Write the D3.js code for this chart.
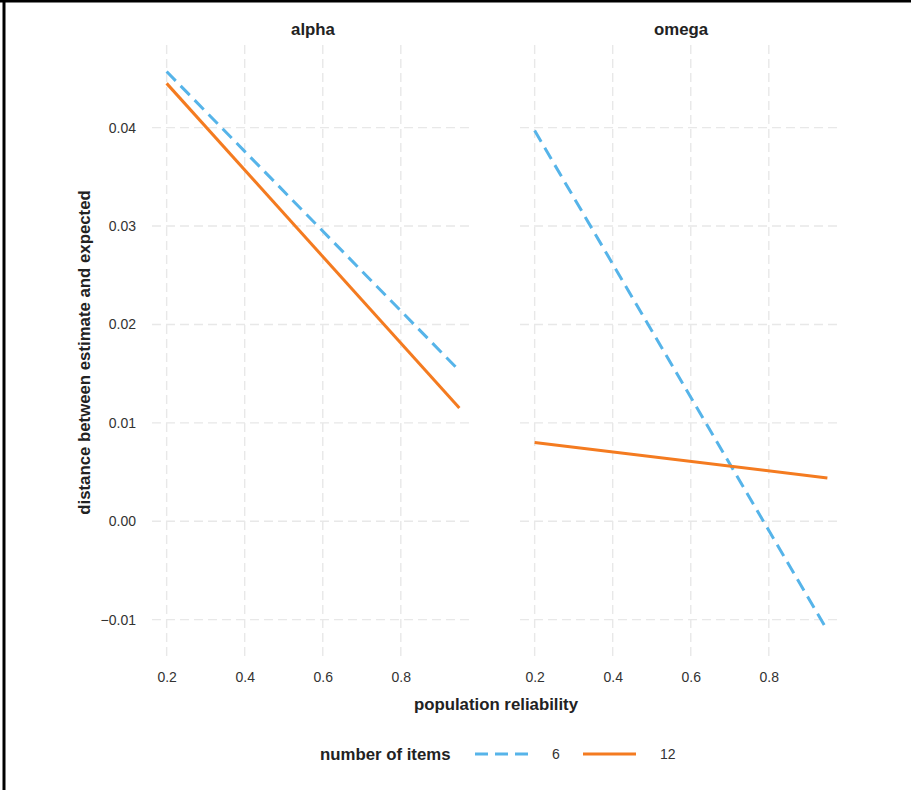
<!DOCTYPE html>
<html lang="en">
<head>
	<meta charset="UTF-8">
	<title>distance by reliability</title>
	<style>
		* {padding:0; margin:0;}
		body {background:#fff;}
		#myGraph {display:block; font-family:"Liberation Sans", Arial, sans-serif;}
		.grid line {stroke:#e8e8e8; stroke-width:1.4px; stroke-dasharray:9,5;}
		.tick text {font-size:14px; fill:#333;}
		.title {font-size:16.8px; font-weight:bold; fill:#222;}
	</style>
</head>
<body>
	<script src="https://d3js.org/d3.v7.min.js"></script>

	<svg id="myGraph" width="911" height="790"></svg>

<script>
// data
var panels = ["alpha", "omega"];
var seriesNames = ["6", "12"];
var xValues = [0.2, 0.95];
var alpha6 = [0.0457, 0.0153];
var alpha12 = [0.0445, 0.0115];
var omega6 = [0.0397, -0.0111];
var omega12 = [0.0080, 0.0044];
var xTicks = [0.2, 0.4, 0.6, 0.8];
var yTicks = [-0.01, 0, 0.01, 0.02, 0.03, 0.04];

var colors = {"6": "#56B4E9", "12": "#F47B20"};
var dashes = {"6": "13,7", "12": null};

var svg = d3.select("#myGraph");

// border top / left
svg.append("line").attr("x1", 0).attr("x2", 911).attr("y1", 1).attr("y2", 1)
	.attr("stroke", "#000").attr("stroke-width", 3);
svg.append("line").attr("x1", 4).attr("x2", 4).attr("y1", 0).attr("y2", 790)
	.attr("stroke", "#000").attr("stroke-width", 3);

var panelLeft = [152, 520];
var panelWidth = 322;
var plotTop = 45, plotBottom = 660;

var y = d3.scaleLinear().domain([-0.0141, 0.0484]).range([plotBottom, plotTop]);

var panelData = {
	alpha: [alpha6, alpha12],
	omega: [omega6, omega12]
};

panels.forEach(function(p, pi){
	var x = d3.scaleLinear().domain([0.1625, 0.9875])
		.range([panelLeft[pi], panelLeft[pi] + panelWidth]);

	var g = svg.append("g");

	// grid
	var grid = g.append("g").attr("class", "grid");
	grid.selectAll(".h").data(yTicks).enter().append("line")
		.attr("x1", panelLeft[pi]).attr("x2", panelLeft[pi] + panelWidth)
		.attr("y1", function(d){ return y(d); })
		.attr("y2", function(d){ return y(d); });
	grid.selectAll(".v").data(xTicks).enter().append("line")
		.attr("x1", function(d){ return x(d); })
		.attr("x2", function(d){ return x(d); })
		.attr("y1", plotTop).attr("y2", plotBottom);

	// x axis
	var xa = g.append("g").attr("transform", "translate(0," + (plotBottom + 8) + ")")
		.call(d3.axisBottom(x).tickValues(xTicks).tickSize(0).tickPadding(4).tickFormat(d3.format(".1f")));
	xa.select(".domain").remove();

	// y axis only on first panel
	if (pi == 0) {
		var ya = g.append("g").attr("transform", "translate(" + (panelLeft[pi] - 16) + ",0)")
			.call(d3.axisLeft(y).tickValues(yTicks).tickSize(0).tickPadding(0).tickFormat(d3.format(".2f")));
		ya.select(".domain").remove();
	}

	// strip title
	g.append("text").attr("class", "title")
		.attr("x", panelLeft[pi] + panelWidth / 2).attr("y", 35)
		.attr("text-anchor", "middle").text(p);

	// lines
	var line = d3.line()
		.x(function(d, i){ return x(xValues[i]); })
		.y(function(d){ return y(d); });
	panelData[p].forEach(function(vals, si){
		var s = seriesNames[si];
		g.append("path").attr("d", line(vals))
			.attr("fill", "none")
			.attr("stroke", colors[s])
			.attr("stroke-width", 3)
			.attr("stroke-dasharray", dashes[s]);
	});
});

// axis titles
svg.append("text").attr("class", "title")
	.attr("x", 496).attr("y", 710).attr("text-anchor", "middle")
	.text("population reliability");
svg.append("text").attr("class", "title")
	.attr("transform", "translate(90," + ((plotTop + plotBottom) / 2) + ") rotate(-90)")
	.attr("text-anchor", "middle")
	.text("distance between estimate and expected");

// legend
var legend = svg.append("g").attr("transform", "translate(0,754)");
legend.append("text").attr("class", "title").attr("x", 320).attr("y", 6).text("number of items");
var keyX = [475, 583];
seriesNames.forEach(function(s, i){
	legend.append("line").attr("x1", keyX[i]).attr("x2", keyX[i] + 53)
		.attr("y1", 0).attr("y2", 0)
		.attr("stroke", colors[s]).attr("stroke-width", 3)
		.attr("stroke-dasharray", dashes[s]);
	legend.append("text").attr("x", keyX[i] + 77).attr("y", 5)
		.attr("font-size", 14).attr("fill", "#333").text(s);
});
</script>
</body>
</html>
